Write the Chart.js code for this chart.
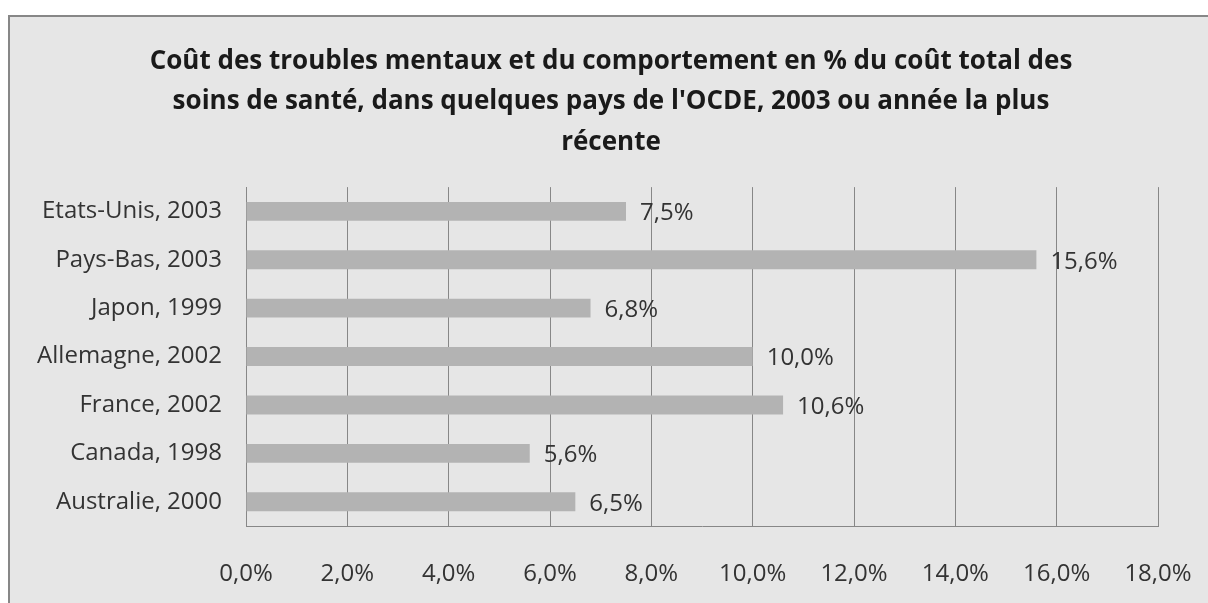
<!DOCTYPE html>
<html>
<head>
<meta charset="utf-8">
<script src="https://cdn.jsdelivr.net/npm/chart.js@4/dist/chart.umd.min.js"></script>
<style>
  body { margin: 0; background: #fff; overflow: hidden; }
  #box {
    position: absolute; left: 8px; top: 15px;
    width: 1300px; height: 700px;
    border: 2px solid #878787;
    background: #e6e6e6;
  }
  #wrap { position: absolute; left: 0; top: 0; width: 1196px; height: 586px; }
</style>
</head>
<body>
<div id="box"><div id="wrap"><canvas id="myChart"></canvas></div></div>
<script>
// pays et année des données
const countries = [
  "Etats-Unis, 2003",
  "Pays-Bas, 2003",
  "Japon, 1999",
  "Allemagne, 2002",
  "France, 2002",
  "Canada, 1998",
  "Australie, 2000",
];
// coût en % du coût total des soins de santé
const shares = [7.5, 15.6, 6.8, 10.0, 10.6, 5.6, 6.5];
const axisMax = 18;
const axisStep = 2;
const titleLines = [
  "Coût des troubles mentaux et du comportement en % du coût total des",
  "soins de santé, dans quelques pays de l'OCDE, 2003 ou année la plus",
  "récente",
];

const pct = (v) => v.toFixed(1).replace(".", ",") + "%";
const FONT = "'Open Sans', 'DejaVu Sans', sans-serif";

// draw value labels next to each bar
const barLabels = {
  id: "barLabels",
  afterDatasetsDraw(chart) {
    const ctx = chart.ctx;
    const meta = chart.getDatasetMeta(0);
    ctx.save();
    ctx.font = "24px " + FONT;
    ctx.fillStyle = "#333333";
    ctx.textBaseline = "middle";
    ctx.textAlign = "left";
    meta.data.forEach((bar, i) => {
      ctx.fillText(pct(shares[i]), bar.x + 14, bar.y + 2);
    });
    ctx.restore();
  },
};

// center the title over the whole box, not only the padded area
const titleCenter = {
  id: "titleCenter",
  afterLayout(chart) {
    const t = chart.titleBlock;
    if (t) {
      t.left = 0;
      t.right = chart.width + 6;
      t.width = t.right;
    }
  },
};

new Chart(document.getElementById("myChart"), {
  type: "bar",
  plugins: [barLabels, titleCenter],
  data: {
    labels: countries,
    datasets: [
      {
        data: shares,
        backgroundColor: "#b3b3b3",
        borderWidth: 0,
        categoryPercentage: 1,
        barPercentage: 0.39,
      },
    ],
  },
  options: {
    indexAxis: "y",
    responsive: true,
    maintainAspectRatio: false,
    animation: false,
    layout: { padding: { left: 0, right: 48, top: 0, bottom: 0 } },
    plugins: {
      legend: { display: false },
      tooltip: { enabled: false },
      title: {
        display: true,
        text: titleLines,
        color: "#1a1a1a",
        font: { family: FONT, size: 26, weight: "bold", lineHeight: 1.54 },
        padding: { top: 25, bottom: 25 },
      },
    },
    scales: {
      x: {
        min: 0,
        max: axisMax,
        afterFit: (scale) => {
          scale.height = 77;
          scale.paddingLeft = 0;
          scale.paddingRight = 0;
        },
        ticks: {
          stepSize: axisStep,
          padding: 34,
          color: "#333333",
          font: { family: FONT, size: 24 },
          callback: (v) => pct(v),
        },
        grid: { color: "#878787", lineWidth: 1, drawTicks: false },
        border: { color: "#878787" },
      },
      y: {
        afterFit: (scale) => {
          scale.width = 236;
          scale.paddingTop = 0;
          scale.paddingBottom = 0;
        },
        ticks: {
          padding: 24,
          color: "#333333",
          font: { family: FONT, size: 24 },
        },
        grid: { display: false, drawTicks: false },
        border: { color: "#878787" },
      },
    },
  },
});
</script>
</body>
</html>
